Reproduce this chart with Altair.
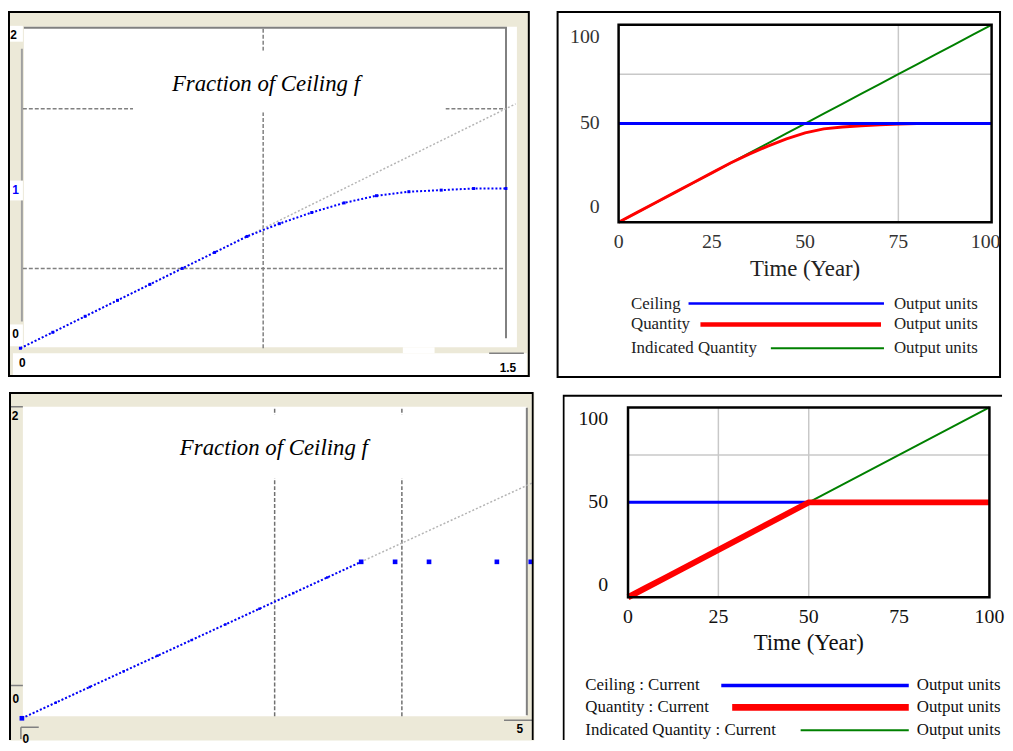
import altair as alt
import pandas as pd

# ================= values =================
# "Fraction of Ceiling f" lookup - first editor (top left)
f1_input = [0.0, 0.1, 0.2, 0.3, 0.4, 0.5, 0.6, 0.7, 0.8, 0.9, 1.0, 1.1, 1.2, 1.3, 1.4, 1.5]
f1_output = [0.0, 0.1, 0.2, 0.3, 0.4, 0.5, 0.6, 0.7, 0.78, 0.85, 0.91, 0.955, 0.98, 0.99, 1.0, 1.0]
# second editor (bottom left): straight part and the separate points
f2_input = [0.0, 0.1, 0.2, 0.3, 0.4, 0.5, 0.6, 0.7, 0.8, 0.9, 1.0]
f2_output = [0.0, 0.1, 0.2, 0.3, 0.4, 0.5, 0.6, 0.7, 0.8, 0.9, 1.0]
f2_point_input = [0.0, 1.0, 1.1, 1.2, 1.4, 1.5]
f2_point_output = [0.0, 1.0, 1.0, 1.0, 1.0, 1.0]
# grey 45-degree reference line of the editors
diag1_input = [0.0, 1.53]
diag1_output = [0.0, 1.53]
diag2_input = [0.0, 1.505]
diag2_output = [0.0, 1.505]
# editor grid lines and tick labels
f1_grid_x = [0.75]
f1_grid_y = [0.5, 1.5]
f2_grid_x = [0.745, 1.12]
f1_ytick_values = [2, 1, 0]
f1_ytick_labels = ["2", "1", "0"]
f1_xtick_values = [0, 1.5]
f1_xtick_labels = ["0", "1.5"]
f2_ytick_values = [2, 0]
f2_ytick_labels = ["2", "0"]
f2_xtick_values = [0, 1.5]
f2_xtick_labels = ["0", "5"]
editor_title = "Fraction of Ceiling f"

# simulation runs
time = [0, 5, 10, 15, 20, 25, 30, 35, 40, 45, 50, 55, 60, 65, 70, 75, 80, 85, 90, 95, 100]
ceiling_run1 = [50, 50, 50, 50, 50, 50, 50, 50, 50, 50, 50, 50, 50, 50, 50, 50, 50, 50, 50, 50, 50]
quantity_run1 = [0, 5, 10, 15, 20, 25, 30, 34.5, 38.6, 42.2, 45.3, 47.3, 48.3, 48.9, 49.4, 49.8, 50, 50, 50, 50, 50]
indicated_run1 = [0, 5, 10, 15, 20, 25, 30, 35, 40, 45, 50, 55, 60, 65, 70, 75, 80, 85, 90, 95, 100]
ceiling_run2 = [50, 50, 50, 50, 50, 50, 50, 50, 50, 50, 50, 50, 50, 50, 50, 50, 50, 50, 50, 50, 50]
quantity_run2 = [0, 5, 10, 15, 20, 25, 30, 35, 40, 45, 50, 50, 50, 50, 50, 50, 50, 50, 50, 50, 50]
indicated_run2 = [0, 5, 10, 15, 20, 25, 30, 35, 40, 45, 50, 55, 60, 65, 70, 75, 80, 85, 90, 95, 100]

series_names_1 = ["Ceiling", "Quantity", "Indicated Quantity"]
series_names_2 = ["Ceiling : Current", "Quantity : Current", "Indicated Quantity : Current"]
series_units = "Output units"
series_colors = ["#0000FF", "#FF0000", "#008000"]
time_ticks = [0, 25, 50, 75, 100]
value_ticks = [100, 50, 0]
value_tick_labels = ["100", "50", "0"]
time_grid_1 = [75]
value_grid_1 = [75]
time_grid_2 = [25, 50]
value_grid_2 = [75]
axis_title = "Time (Year)"

# ================= styling / layout =================
SERIF = "Liberation Serif"
SANS = "Liberation Sans"
BEIGE = "#ECE9D8"
GREY = "#808080"


class Panel:
    """A panel whose plot area is the whole framed box; scales map values to pixels."""

    def __init__(self, left, top, width, height, x0px, xunit, y0px, yunit):
        self.W, self.H = width, height
        self.x0, self.xu, self.y0, self.yu = x0px, xunit, y0px, yunit
        self.xs = alt.Scale(domain=[self.X(left), self.X(left + width)], zero=False, nice=False)
        self.ys = alt.Scale(domain=[self.Y(top + height), self.Y(top)], zero=False, nice=False)

    def X(self, px):
        return (px - self.x0) / self.xu

    def Y(self, py):
        return (self.y0 - py) / self.yu

    def enc(self, x="x", y="y", **kw):
        return dict(x=alt.X(f"{x}:Q", scale=self.xs, axis=None),
                    y=alt.Y(f"{y}:Q", scale=self.ys, axis=None), **kw)


def rect_px(p, x0, y0, x1, y1, **mark):
    df = pd.DataFrame({"x": [p.X(x0)], "x2": [p.X(x1)], "y": [p.Y(y1)], "y2": [p.Y(y0)]})
    return alt.Chart(df).mark_rect(**mark).encode(**p.enc(x2="x2:Q", y2="y2:Q"))


def seg_px(p, x0, y0, x1, y1, color, width, dash=None):
    df = pd.DataFrame({"x": [p.X(x0)], "x2": [p.X(x1)], "y": [p.Y(y0)], "y2": [p.Y(y1)]})
    mark = {"color": color, "strokeWidth": width, "clip": True}
    if dash:
        mark["strokeDash"] = dash
    return alt.Chart(df).mark_rule(**mark).encode(**p.enc(x2="x2:Q", y2="y2:Q"))


def vgrid(p, xvals, ylo, yhi, color, width, dash=None):
    n = len(xvals)
    df = pd.DataFrame({"x": xvals, "y": [ylo] * n, "y2": [yhi] * n})
    mark = {"color": color, "strokeWidth": width}
    if dash:
        mark["strokeDash"] = dash
    return alt.Chart(df).mark_rule(**mark).encode(**p.enc(y2="y2:Q"))


def hgrid(p, yvals, xlo, xhi, color, width, dash=None):
    n = len(yvals)
    df = pd.DataFrame({"y": yvals, "x": [xlo] * n, "x2": [xhi] * n})
    mark = {"color": color, "strokeWidth": width}
    if dash:
        mark["strokeDash"] = dash
    return alt.Chart(df).mark_rule(**mark).encode(**p.enc(x2="x2:Q"))


def label(p, xv, yv, text, dx=0, dy=0, size=12, font=SANS, color="black", align="center",
          baseline="middle", weight="normal", style="normal", clip=False):
    xv = xv if isinstance(xv, list) else [xv]
    yv = yv if isinstance(yv, list) else [yv] * len(xv)
    text = text if isinstance(text, list) else [text]
    df = pd.DataFrame({"x": xv, "y": yv, "t": text})
    return alt.Chart(df).mark_text(dx=dx, dy=dy, fontSize=size, font=font, color=color, align=align,
                                   baseline=baseline, fontWeight=weight, fontStyle=style,
                                   clip=clip).encode(**p.enc(text="t:N"))


def series(p, xs, ys, color, width, dash=None):
    df = pd.DataFrame({"x": xs, "y": ys})
    mark = {"color": color, "strokeWidth": width}
    if dash:
        mark["strokeDash"] = dash
    return alt.Chart(df).mark_line(**mark).encode(**p.enc())


def squares(p, xs, ys, size):
    df = pd.DataFrame({"x": xs, "y": ys})
    return alt.Chart(df).mark_square(size=size, color="#0000FF", opacity=1).encode(**p.enc())


def legend(p, names, rows_py, text_px, start_px, end_px, widths, unit_px, size, color):
    df = pd.DataFrame({
        "name": names, "c": series_colors, "w": widths,
        "y": [p.Y(v) for v in rows_py],
        "xt": [p.X(text_px)] * len(names),
        "x0": [p.X(v) for v in start_px],
        "x1": [p.X(v) for v in end_px],
        "xu": [p.X(unit_px)] * len(names),
        "u": [series_units] * len(names),
    })
    base = alt.Chart(df)
    t1 = base.mark_text(align="left", baseline="middle", font=SERIF, fontSize=size, color=color,
                        clip=True).encode(**p.enc(x="xt", text="name:N"))
    ln = base.mark_rule().encode(**p.enc(x="x0", x2="x1:Q", color=alt.Color("c:N", scale=None),
                                         size=alt.Size("w:Q", scale=None)))
    t2 = base.mark_text(align="left", baseline="middle", font=SERIF, fontSize=size, color=color,
                        clip=True).encode(**p.enc(x="xu", text="u:N"))
    return [t1, ln, t2]


def plot_frame(p):
    df = pd.DataFrame({"x": [0], "x2": [100], "y": [0], "y2": [100]})
    return alt.Chart(df).mark_rect(fillOpacity=0, stroke="black", strokeWidth=2.5).encode(
        **p.enc(x2="x2:Q", y2="y2:Q"))


# ---------------- top-left: lookup editor ----------------
TL = Panel(8, 8, 524, 367, 19.5, 326.3, 347, 161)
tl_layers = [
    rect_px(TL, 23, 23, 520, 346, color="white"),
    rect_px(TL, 405, 346, 437, 352, color="white"),
    rect_px(TL, 12, 352, 530, 374, color="white"),
    rect_px(TL, 9, 22, 22, 38, color="white"),
    rect_px(TL, 9, 178, 22, 198, color="white"),
    rect_px(TL, 9, 323, 22, 345, color="white"),
    seg_px(TL, 23, 24, 510, 24, GREY, 2),
    seg_px(TL, 509, 24, 509, 337, GREY, 2),
    seg_px(TL, 21, 45, 21, 178, "#A0A0A0", 2),
    seg_px(TL, 21, 198, 21, 320, "#A0A0A0", 2),
    seg_px(TL, 492, 352, 527, 352, GREY, 1.5),
    vgrid(TL, f1_grid_x, 0, 2, GREY, 1.5, [4, 2]),
    hgrid(TL, f1_grid_y, TL.X(22), 1.5, GREY, 1.5, [4, 2]),
    rect_px(TL, 133, 47, 448, 109, color="white"),
    label(TL, TL.X(267), TL.Y(88), editor_title, size=23, font=SERIF, style="italic",
          baseline="alphabetic"),
    series(TL, diag1_input, diag1_output, "#B4B4B4", 1.5, [2, 2]),
    series(TL, f1_input, f1_output, "#0000FF", 2, [2, 2]),
    squares(TL, f1_input, f1_output, 9),
    label(TL, 0, f1_ytick_values[0], f1_ytick_labels[0], dx=-7, dy=6, weight="bold"),
    label(TL, 0, f1_ytick_values[1], f1_ytick_labels[1], dx=-5, dy=2, weight="bold", color="#0000FF"),
    label(TL, 0, f1_ytick_values[2], f1_ytick_labels[2], dx=-5, dy=-14, weight="bold"),
    label(TL, f1_xtick_values[0], 0, f1_xtick_labels[0], dx=2, dy=15, weight="bold"),
    label(TL, f1_xtick_values[1], 0, f1_xtick_labels[1], dx=2, dy=20, weight="bold"),
]
tl = alt.layer(*tl_layers).properties(
    width=TL.W, height=TL.H,
    view=alt.ViewBackground(fill=BEIGE, stroke="black", strokeWidth=2))

# ---------------- top-right: simulation graph ----------------
TR = Panel(559, 8, 446, 368, 620.5, 3.76, 220, 1.99)
tr_layers = [
    vgrid(TR, time_grid_1, 0, 100, "#C8C8C8", 1.5),
    hgrid(TR, value_grid_1, 0, 100, "#C8C8C8", 1.5),
    series(TR, time, indicated_run1, series_colors[2], 2),
    series(TR, time, quantity_run1, series_colors[1], 3),
    series(TR, time, ceiling_run1, series_colors[0], 3),
    plot_frame(TR),
    label(TR, time_ticks[:-1], 0, [str(v) for v in time_ticks[:-1]], dy=20, size=20, font=SERIF,
          color="#333333"),
    label(TR, time_ticks[-1], 0, str(time_ticks[-1]), dx=-6, dy=20, size=20, font=SERIF,
          color="#333333"),
    label(TR, 0, value_ticks[0], value_tick_labels[0], dx=-19, dy=12, size=20, font=SERIF,
          color="#333333", align="right"),
    label(TR, 0, value_ticks[1], value_tick_labels[1], dx=-19, dy=-1, size=20, font=SERIF,
          color="#333333", align="right"),
    label(TR, 0, value_ticks[2], value_tick_labels[2], dx=-19, dy=-15, size=20, font=SERIF,
          color="#333333", align="right"),
    label(TR, 50, 0, axis_title, dy=47, size=23, font=SERIF, color="#222222"),
] + legend(TR, series_names_1, [302, 323, 347], 633, [691, 703, 774], [888, 885, 888],
           [2.5, 4.5, 2], 898, 17, "#222222")
tr = alt.layer(*tr_layers).properties(
    width=TR.W, height=TR.H,
    view=alt.ViewBackground(fill="white", stroke="black", strokeWidth=2))

# ---------------- bottom-left: lookup editor ----------------
BL = Panel(8, 392, 529, 351, 21, 342, 721, 157.7)
bl_layers = [
    rect_px(BL, 22, 407, 530, 719, color="white"),
    vgrid(BL, f2_grid_x, BL.Y(719), BL.Y(407), "#707070", 1.5, [4, 2]),
    rect_px(BL, 140, 415, 456, 479, color="white"),
    label(BL, BL.X(275), BL.Y(456), editor_title, size=23, font=SERIF, style="italic",
          baseline="alphabetic"),
    seg_px(BL, 530, 408, 530, 718, GREY, 2),
    seg_px(BL, 507, 723, 536, 723, GREY, 1.5),
    seg_px(BL, 9, 407, 22, 407, GREY, 1.5),
    seg_px(BL, 9, 407, 9, 423, GREY, 1.5),
    seg_px(BL, 9, 688, 22, 688, GREY, 1.5),
    seg_px(BL, 9, 688, 9, 712, GREY, 1.5),
    seg_px(BL, 20, 730, 38, 730, GREY, 1.5),
    seg_px(BL, 20, 730, 20, 742, GREY, 1.5),
    series(BL, diag2_input, diag2_output, "#B4B4B4", 1.5, [2, 2]),
    series(BL, f2_input, f2_output, "#0000FF", 2, [2, 2]),
    squares(BL, f2_input, f2_output, 6),
    squares(BL, f2_point_input, f2_point_output, 22),
    label(BL, 0, f2_ytick_values[0], f2_ytick_labels[0], dx=-7, dy=11, weight="bold"),
    label(BL, 0, f2_ytick_values[1], f2_ytick_labels[1], dx=-6, dy=-19, weight="bold"),
    label(BL, f2_xtick_values[0], 0, f2_xtick_labels[0], dx=4, dy=21, weight="bold"),
    label(BL, f2_xtick_values[1], 0, f2_xtick_labels[1], dx=-11, dy=11, weight="bold"),
    rect_px(BL, 9, 393, 536, 800, fillOpacity=0, stroke="black", strokeWidth=2, clip=True),
]
bl = alt.layer(*bl_layers).properties(
    width=BL.W, height=BL.H,
    view=alt.ViewBackground(fill=BEIGE, stroke="transparent"))

# ---------------- bottom-right: simulation graph ----------------
BR = Panel(562, 392, 443, 351, 628, 3.643, 599, 1.913)
br_layers = [
    vgrid(BR, time_grid_2, 0, 100, "#C8C8C8", 1.5),
    hgrid(BR, value_grid_2, 0, 100, "#C8C8C8", 1.5),
    series(BR, time, ceiling_run2, series_colors[0], 3),
    series(BR, time, indicated_run2, series_colors[2], 2),
    series(BR, time, quantity_run2, series_colors[1], 6),
    plot_frame(BR),
    label(BR, time_ticks, 0, [str(v) for v in time_ticks], dy=20, size=20, font=SERIF,
          color="#111111"),
    label(BR, 0, value_ticks[0], value_tick_labels[0], dx=-20, dy=12, size=20, font=SERIF,
          color="#111111", align="right"),
    label(BR, 0, value_ticks[1], value_tick_labels[1], dx=-20, dy=0, size=20, font=SERIF,
          color="#111111", align="right"),
    label(BR, 0, value_ticks[2], value_tick_labels[2], dx=-20, dy=-12, size=20, font=SERIF,
          color="#111111", align="right"),
    label(BR, 50, 0, axis_title, dy=46, size=23, font=SERIF, color="#111111"),
] + legend(BR, series_names_2, [688, 710, 733], 585, [722, 733, 802], [911, 911, 911],
           [3.5, 7, 2], 919, 17, "#111111") + [
    rect_px(BR, 563, 396, 1030, 800, fillOpacity=0, stroke="black", strokeWidth=2, clip=True),
]
br = alt.layer(*br_layers).properties(
    width=BR.W, height=BR.H,
    view=alt.ViewBackground(fill="white", stroke="transparent"))

top = alt.hconcat(tl, tr, spacing=27)
bottom = alt.hconcat(bl, br, spacing=25)
chart = alt.vconcat(top, bottom, spacing=13).properties(padding=0)

chart.save("out.html", embed_options={"renderer": "svg", "actions": False})
